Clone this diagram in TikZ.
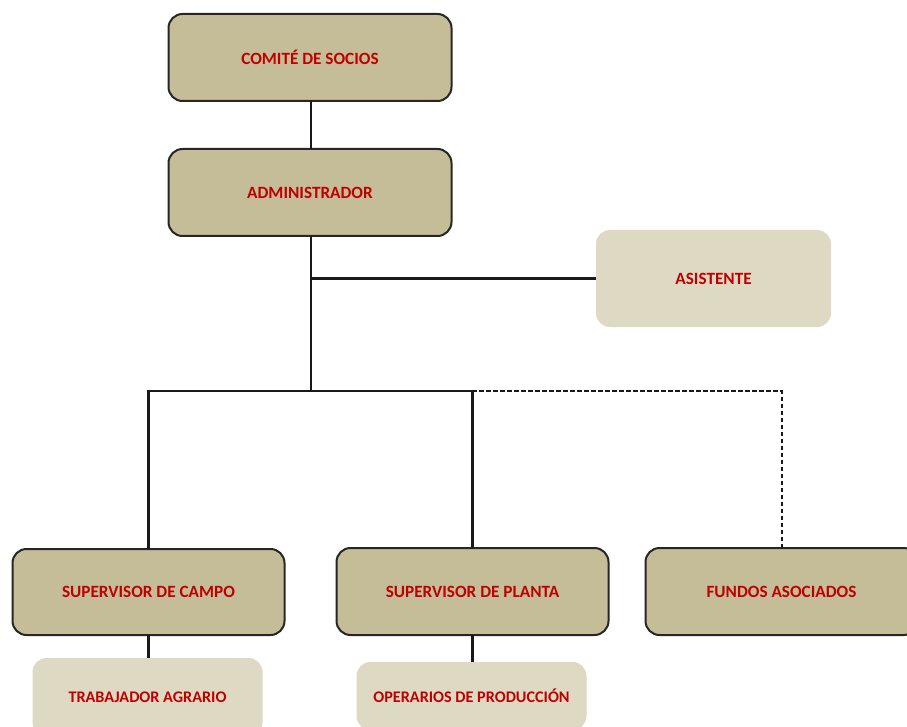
\documentclass[tikz,border=0pt]{standalone}
\usepackage{fontspec}
\setmainfont{Carlito}
\definecolor{boxdark}{HTML}{C4BD97}
\definecolor{boxlight}{HTML}{DDD9C3}
\definecolor{labelred}{HTML}{C00000}
\tikzset{
  unit/.style={rectangle, rounded corners=14pt, inner sep=0pt, outer sep=0pt,
    font=\fontsize{17.2}{20}\selectfont\bfseries, text=labelred},
  mainbox/.style={unit, fill=boxdark, draw=black!85, line width=2pt},
  subbox/.style={unit, fill=boxlight},
  smalltext/.style={font=\fontsize{16.2}{19}\selectfont\bfseries},
  link/.style={draw=black!90, line width=2.3pt},
  dashlink/.style={link, line width=2pt, dash pattern=on 4.5pt off 2.5pt}
}
\begin{document}
\begin{tikzpicture}[x=1pt, y=-1pt]
  \useasboundingbox (0,0) rectangle (907,727);
  \clip (0,0) rectangle (907,727);

  % boxes
  \node[mainbox, minimum width=283pt, minimum height=87pt] (comite) at (310,57.5) {COMITÉ DE SOCIOS};
  \node[mainbox, minimum width=283pt, minimum height=87pt] (admin) at (310,192.5) {ADMINISTRADOR};
  \node[subbox, minimum width=235pt, minimum height=97pt] (asist) at (713.5,278.5) {ASISTENTE};
  \node[mainbox, minimum width=272pt, minimum height=86pt] (campo) at (148.5,592) {SUPERVISOR DE CAMPO};
  \node[mainbox, minimum width=272pt, minimum height=87pt] (planta) at (472.5,591.5) {SUPERVISOR DE PLANTA};
  \node[mainbox, minimum width=272pt, minimum height=87pt] (fundos) at (781.5,591.5) {FUNDOS ASOCIADOS};
  \node[subbox, smalltext, minimum width=230pt, minimum height=78pt] (trab) at (147.5,697) {TRABAJADOR AGRARIO};
  \node[subbox, smalltext, minimum width=230pt, minimum height=68pt] (oper) at (471.5,696) {OPERARIOS DE PRODUCCIÓN};

  % junction points
  \coordinate (hub) at (311,391);
  \coordinate (asisthub) at (311,278.5);

  % connectors
  \draw[link] ([xshift=1pt]comite.south) -- ([xshift=1pt]admin.north);
  \draw[link] ([xshift=1pt]admin.south) -- (hub);
  \draw[link] (asisthub) -- (asist.west);
  \draw[dashlink] (hub) -| (fundos.north);
  \draw[link] (campo.north) -- (campo.north |- hub) -- (planta.north |- hub) -- (planta.north);
  \draw[link] (campo.south) -- (campo.south |- trab.north);
  \draw[link] (planta.south) -- (planta.south |- oper.north);
\end{tikzpicture}
\end{document}
